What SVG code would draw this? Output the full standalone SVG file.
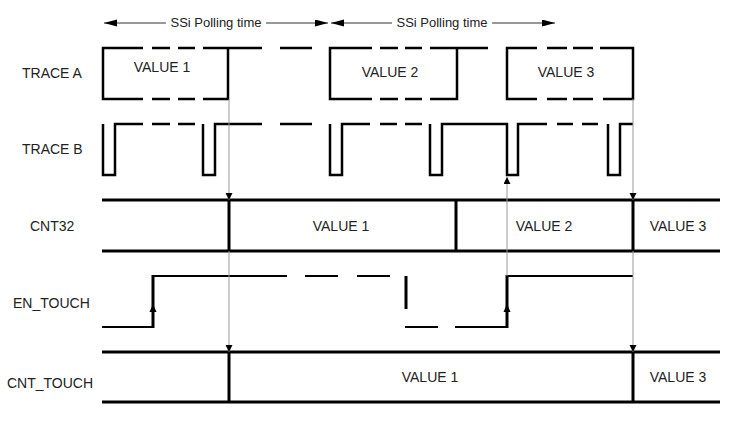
<svg xmlns="http://www.w3.org/2000/svg" width="756" height="428" viewBox="0 0 756 428">
<defs>
<style>
text{font-family:"Liberation Sans",Arial,sans-serif;font-size:14px;fill:#222}
.mid{text-anchor:middle}
.sig{fill:none;stroke:#000;stroke-width:2.5}
.thin{fill:none;stroke:#000;stroke-width:2}
.bus{fill:none;stroke:#000;stroke-width:3}
.guide{fill:none;stroke:#999;stroke-width:1}
.span{fill:none;stroke:#333;stroke-width:1}
</style>
<marker id="ah" markerUnits="userSpaceOnUse" markerWidth="8" markerHeight="8" refX="7" refY="3.5" orient="auto"><path d="M0,0 L7,3.5 L0,7 z" fill="#000"/></marker>
<marker id="big" markerUnits="userSpaceOnUse" markerWidth="14" markerHeight="8" refX="13" refY="3.5" orient="auto"><path d="M0,0 L13,3.5 L0,7 z" fill="#000"/></marker>
</defs>
<rect width="756" height="428" fill="#fff"/>

<g id="polling1">
<path class="span" d="M166,23 H104" marker-end="url(#big)"/>
<path class="span" d="M266,23 H328" marker-end="url(#big)"/>
<text x="216" y="27" class="mid" style="font-size:13px">SSi Polling time</text>
</g>
<g id="polling2">
<path class="span" d="M392,23 H331" marker-end="url(#big)"/>
<path class="span" d="M492,23 H555" marker-end="url(#big)"/>
<text x="442" y="27" class="mid" style="font-size:13px">SSi Polling time</text>
</g>

<g id="traceA">
<text x="22" y="78">TRACE A</text>
<path class="sig" d="M143,48 H103 V99 H143 M152,48 H170 M178,48 H195 M152,99 H170 M178,99 H195 M203,48 H228 M203,99 H228 V48 H262 M280,48 H312"/>
<path class="sig" d="M372,48 H330 V99 H372 M380,48 H398 M405,48 H422 M380,99 H398 M405,99 H422 M430,48 H457 M430,99 H457 V48 H488"/>
<path class="sig" d="M537,48 H507 V99 H537 M547,48 H567 M573,48 H593 M547,99 H567 M573,99 H593 M600,48 H633 V99 H603"/>
<text x="162" y="72" class="mid">VALUE 1</text>
<text x="390" y="77" class="mid">VALUE 2</text>
<text x="566" y="77" class="mid">VALUE 3</text>
</g>

<g id="traceB">
<text x="22" y="154">TRACE B</text>
<path class="sig" d="M103,124 V175 H115 V124 H143 M152,124 H170 M178,124 H195 M203,124 V175 H215 V124 H262 M280,124 H312 M330,124 V175 H342 V124 H370 M380,124 H397 M405,124 H422 M430,124 V175 H442 V124 H507 V175 H518 V124 H547 M557,124 H573 M582,124 H598 M608,124 V175 H620 V124 H633"/>
</g>

<g id="cnt32">
<text x="30" y="231">CNT32</text>
<path class="bus" d="M102,200 H720 M102,251 H720 M229,200 V251 M456,200 V251 M633,200 V251"/>
<text x="341" y="231" class="mid">VALUE 1</text>
<text x="544" y="231" class="mid">VALUE 2</text>
<text x="678" y="231" class="mid">VALUE 3</text>
</g>

<g id="enTouch">
<text x="13" y="308">EN_TOUCH</text>
<path class="thin" d="M102,327 H153 M153,276 H287 M305,276 H338 M357,276 H390 M405,327 H438 M455,327 H507 M507,276 H633"/>
<path class="bus" d="M153,328 V275 M406,276 V309 M507,328 V275"/>
<polygon points="153,304 149.5,312 156.5,312" fill="#000"/>
<polygon points="507,304 503.5,312 510.5,312" fill="#000"/>
</g>

<g id="cntTouch">
<text x="7" y="388">CNT_TOUCH</text>
<path class="bus" d="M102,352 H720 M102,402 H720 M229,352 V402 M633,352 V402"/>
<text x="430" y="382" class="mid">VALUE 1</text>
<text x="678" y="382" class="mid">VALUE 3</text>
</g>

<g id="connectors">
<path class="guide" d="M229,99 V200" marker-end="url(#ah)"/>
<path class="guide" d="M229,251 V352" marker-end="url(#ah)"/>
<path class="guide" d="M633,99 V200" marker-end="url(#ah)"/>
<path class="guide" d="M633,251 V352" marker-end="url(#ah)"/>
<path class="guide" d="M507,276 V177" marker-end="url(#ah)"/>
</g>
</svg>
